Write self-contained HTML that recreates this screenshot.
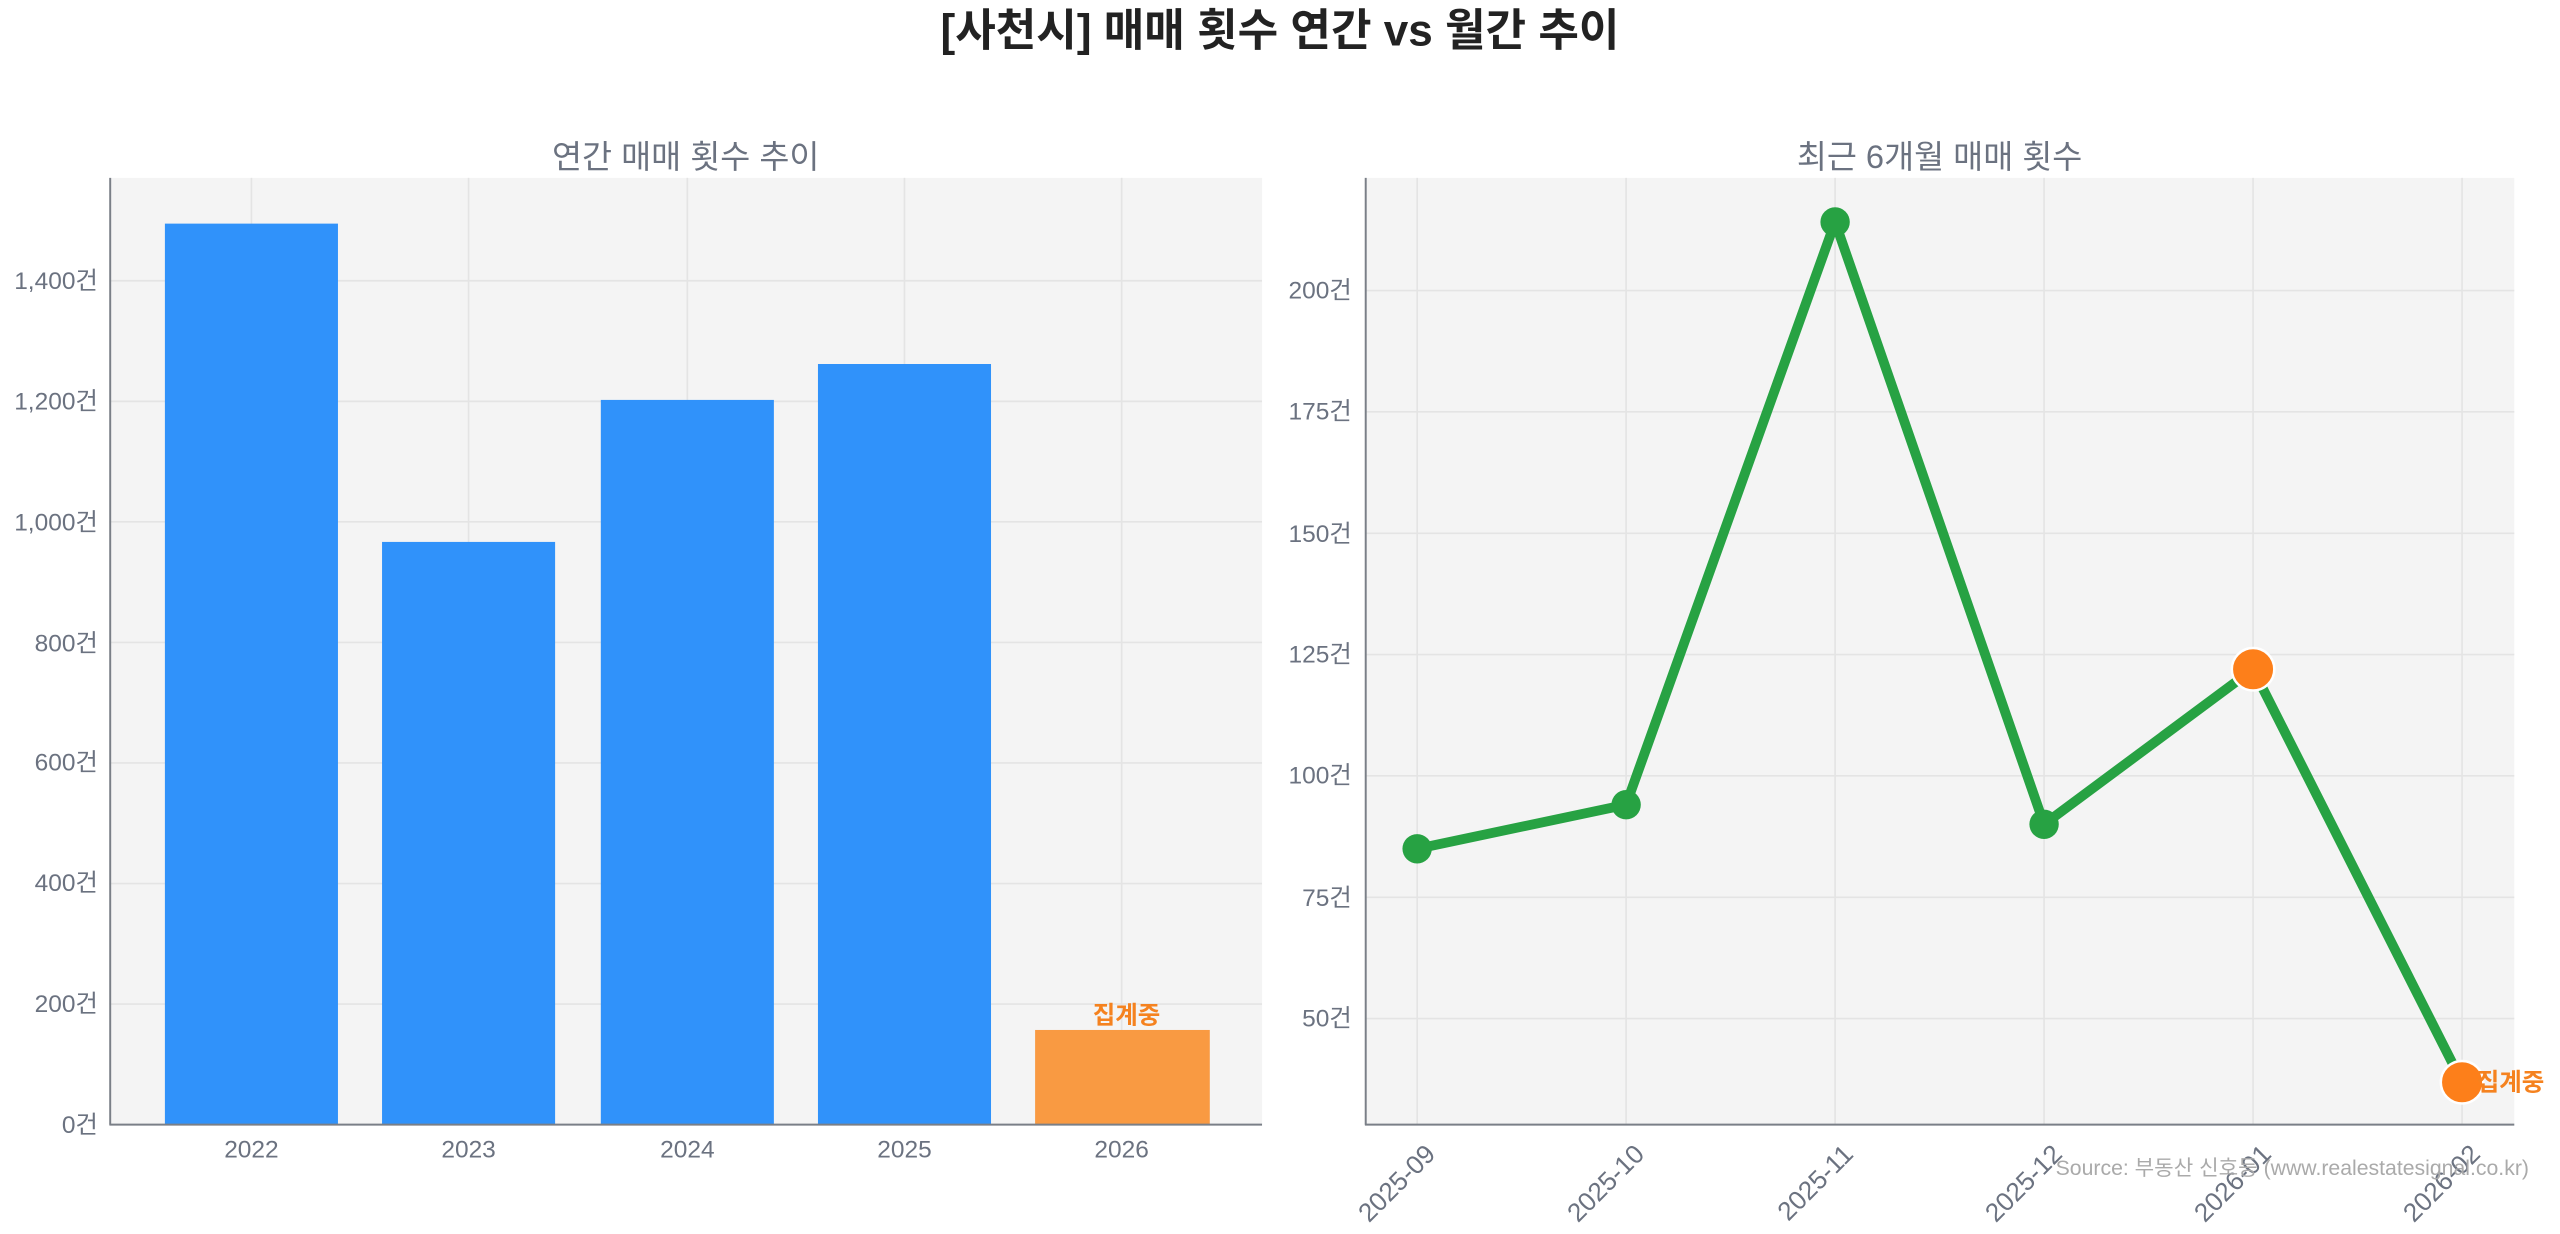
<!DOCTYPE html>
<html><head><meta charset="utf-8"><style>
html,body{margin:0;padding:0;background:#fff;}
svg{display:block;font-family:"Liberation Sans","Noto Sans CJK KR",sans-serif;}
</style></head><body>
<svg width="2560" height="1234" viewBox="0 0 1568 756" preserveAspectRatio="none" xmlns="http://www.w3.org/2000/svg">
<rect width="1568" height="756" fill="#fff"/>
<text x="784" y="28" text-anchor="middle" font-size="27" font-weight="bold" fill="#222">[사천시] 매매 횟수 연간 vs 월간 추이</text>

<!-- Left panel -->
<text x="420" y="103" text-anchor="middle" font-size="20" fill="#6b7280">연간 매매 횟수 추이</text>
<rect x="67" y="109" width="706" height="580" fill="#f4f4f4"/>
<g stroke="#e4e4e4" stroke-width="1">
<line x1="67" x2="773" y1="615.1" y2="615.1"/><line x1="67" x2="773" y1="541.3" y2="541.3"/>
<line x1="67" x2="773" y1="467.4" y2="467.4"/><line x1="67" x2="773" y1="393.6" y2="393.6"/>
<line x1="67" x2="773" y1="319.7" y2="319.7"/><line x1="67" x2="773" y1="245.9" y2="245.9"/>
<line x1="67" x2="773" y1="172" y2="172"/>
<line x1="154" x2="154" y1="109" y2="689"/><line x1="287" x2="287" y1="109" y2="689"/>
<line x1="421" x2="421" y1="109" y2="689"/><line x1="554" x2="554" y1="109" y2="689"/>
<line x1="687" x2="687" y1="109" y2="689"/>
</g>
<rect x="101" y="137" width="106" height="552" fill="#3092fa"/>
<rect x="234" y="332" width="106" height="357" fill="#3092fa"/>
<rect x="368" y="245" width="106" height="444" fill="#3092fa"/>
<rect x="501" y="223" width="106" height="466" fill="#3092fa"/>
<rect x="634" y="631" width="107" height="58" fill="#f99a42"/>
<text x="690" y="627" text-anchor="middle" font-size="15" font-weight="bold" fill="#f5821f">집계중</text>
<line x1="67.5" x2="67.5" y1="109" y2="689" stroke="#7a7f87" stroke-width="1.2"/>
<line x1="67" x2="773" y1="689" y2="689" stroke="#7a7f87" stroke-width="1.2"/>
<g font-size="15" fill="#6b7280" text-anchor="end">
<text x="60" y="694">0건</text><text x="60" y="620">200건</text><text x="60" y="546">400건</text>
<text x="60" y="472">600건</text><text x="60" y="399">800건</text><text x="60" y="325">1,000건</text>
<text x="60" y="251">1,200건</text><text x="60" y="177">1,400건</text>
</g>
<g font-size="15" fill="#6b7280" text-anchor="middle">
<text x="154" y="709">2022</text><text x="287" y="709">2023</text><text x="421" y="709">2024</text>
<text x="554" y="709">2025</text><text x="687" y="709">2026</text>
</g>

<!-- Right panel -->
<text x="1188" y="103" text-anchor="middle" font-size="20" fill="#6b7280">최근 6개월 매매 횟수</text>
<rect x="836" y="109" width="704" height="580" fill="#f4f4f4"/>
<g stroke="#e4e4e4" stroke-width="1">
<line x1="836" x2="1540" y1="624" y2="624"/><line x1="836" x2="1540" y1="549.7" y2="549.7"/>
<line x1="836" x2="1540" y1="475.3" y2="475.3"/><line x1="836" x2="1540" y1="401" y2="401"/>
<line x1="836" x2="1540" y1="326.7" y2="326.7"/><line x1="836" x2="1540" y1="252.3" y2="252.3"/>
<line x1="836" x2="1540" y1="178" y2="178"/>
<line x1="868" x2="868" y1="109" y2="689"/><line x1="996" x2="996" y1="109" y2="689"/>
<line x1="1124" x2="1124" y1="109" y2="689"/><line x1="1252" x2="1252" y1="109" y2="689"/>
<line x1="1380" x2="1380" y1="109" y2="689"/><line x1="1508" x2="1508" y1="109" y2="689"/>
</g>
<polyline points="868,520 996,493 1124,136 1252,505 1380,410 1508,663" fill="none" stroke="#27a243" stroke-width="6" stroke-linejoin="round"/>
<g fill="#27a243">
<circle cx="868" cy="520" r="9"/><circle cx="996" cy="493" r="9"/>
<circle cx="1124" cy="136" r="9"/><circle cx="1252" cy="505" r="9"/>
</g>
<circle cx="1380" cy="410" r="13" fill="#fd7f1a" stroke="#fff" stroke-width="1.5"/>
<circle cx="1508" cy="663" r="13" fill="#fd7f1a" stroke="#fff" stroke-width="1.5"/>
<text x="1517" y="668" font-size="15" font-weight="bold" fill="#f5821f">집계중</text>
<line x1="836.5" x2="836.5" y1="109" y2="689" stroke="#7a7f87" stroke-width="1.2"/>
<line x1="836" x2="1540" y1="689" y2="689" stroke="#7a7f87" stroke-width="1.2"/>
<g font-size="15" fill="#6b7280" text-anchor="end">
<text x="828" y="629">50건</text><text x="828" y="555">75건</text><text x="828" y="480">100건</text>
<text x="828" y="406">125건</text><text x="828" y="332">150건</text><text x="828" y="257">175건</text>
<text x="828" y="183">200건</text>
</g>
<g font-size="16" fill="#6b7280" text-anchor="end">
<text transform="translate(880,708) rotate(-45)">2025-09</text>
<text transform="translate(1008,708) rotate(-45)">2025-10</text>
<text transform="translate(1136,708) rotate(-45)">2025-11</text>
<text transform="translate(1264,708) rotate(-45)">2025-12</text>
<text transform="translate(1392,708) rotate(-45)">2026-01</text>
<text transform="translate(1520,708) rotate(-45)">2026-02</text>
</g>
<text x="1549" y="720" text-anchor="end" font-size="13" fill="#aaa">Source: 부동산 신호등 (www.realestatesignal.co.kr)</text>
</svg>
</body></html>
